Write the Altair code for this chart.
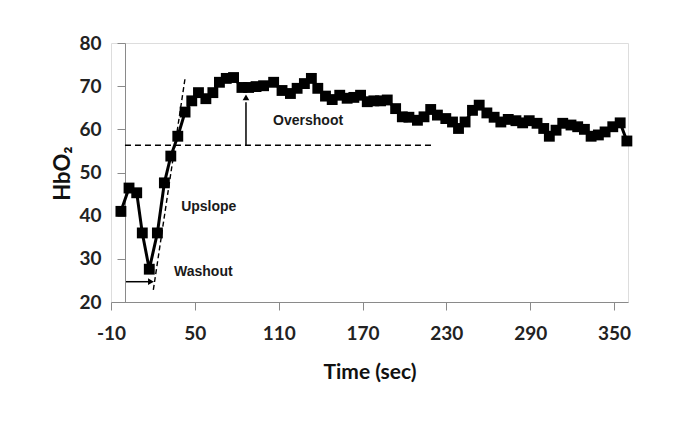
import altair as alt
import pandas as pd

# ---- data ----
time_s = [-2.9, 2.9, 8.4, 12.4, 17.4, 23.2, 28.2, 32.8, 37.8, 43.0,
          47.8, 52.6, 57.9, 62.9, 67.6, 72.5, 77.7, 83.7, 88.5, 93.8,
          99.2, 106.4, 112.4, 118.4, 123.2, 128.4, 133.4, 138.0, 143.5, 148.3,
          153.7, 159.0, 163.8, 168.6, 173.4, 178.1, 182.9, 187.7, 193.7, 198.5,
          203.2, 209.3, 214.0, 218.8, 223.6, 229.6, 234.4, 238.7, 243.4, 248.7,
          253.5, 259.0, 264.2, 269.0, 274.3, 279.8, 284.6, 289.3, 294.9, 299.7,
          303.7, 308.5, 313.3, 319.2, 324.0, 328.8, 333.6, 338.8, 343.6, 349.1,
          354.4, 359.2]
hbo2 = [41.0, 46.4, 45.3, 36.0, 27.6, 36.0, 47.6, 53.8, 58.4, 64.0,
        66.6, 68.5, 67.1, 68.5, 70.9, 71.8, 72.0, 69.7, 69.7, 69.9,
        70.1, 70.9, 69.0, 68.3, 69.5, 70.6, 71.8, 69.5, 67.7, 66.9,
        67.9, 67.2, 67.4, 67.9, 66.4, 66.6, 66.6, 66.8, 64.8, 62.9,
        62.8, 62.1, 62.9, 64.6, 63.3, 62.5, 61.7, 60.2, 61.7, 64.4,
        65.6, 63.8, 62.8, 61.7, 62.3, 62.0, 61.5, 62.0, 61.4, 60.2,
        58.4, 59.8, 61.4, 61.0, 60.6, 60.0, 58.4, 58.7, 59.4, 60.6,
        61.5, 57.3]

x_ticks = [-10, 50, 110, 170, 230, 290, 350]
y_ticks = [20, 30, 40, 50, 60, 70, 80]
x_domain = [-10, 360]
y_domain = [20, 80]

# annotations
baseline_level = 56.3
baseline_span = [0, 221]
overshoot_t = 86.6
overshoot_span = [56.3, 66.3]
overshoot_tip = 67.4
upslope_t = [20.3, 43.0]
upslope_v = [22.8, 71.8]
washout_span = [0.7, 17.5]
washout_tip = 18.6
washout_level = 24.7
label_t = [106.0, 40.2, 35.1]
label_v = [61.9, 42.1, 26.9]
label_txt = ["Overshoot", "Upslope", "Washout"]

# ---- layout ----
W, H = 517, 259
px_per_unit = W / (x_domain[1] - x_domain[0])
y_axis_offset = -round((0 - x_domain[0]) * px_per_unit)

FONT = "Lato"
ANNO_FONT = "Liberation Sans"

xscale = alt.Scale(domain=x_domain, nice=False, zero=False)
yscale = alt.Scale(domain=y_domain, nice=False, zero=False)

x_axis = alt.Axis(values=x_ticks, title="Time (sec)", grid=False,
                  labelExpr="'' + datum.value",
                  domainColor="#8a8a8a", tickColor="#8a8a8a", tickSize=8,
                  labelFont=FONT, labelFontSize=19, labelFontWeight="bold",
                  labelColor="#222222", labelPadding=14, labelFlush=False,
                  titleFont=FONT, titleFontSize=21, titleFontWeight="bold",
                  titleColor="#111111", titleY=70, titleBaseline="middle")
y_axis = alt.Axis(values=y_ticks, title="HbO₂", grid=False, offset=y_axis_offset,
                  domainColor="#8a8a8a", tickColor="#8a8a8a", tickSize=8,
                  labelFont=FONT, labelFontSize=19, labelFontWeight="bold",
                  labelColor="#222222", labelPadding=16,
                  titleFont=FONT, titleFontSize=22, titleFontWeight="bold",
                  titleColor="#111111", titleAngle=-90, titleX=-63, titleY=130,
                  titleAlign="center", titleBaseline="middle")


def X(field):
    return alt.X(field, type="quantitative", scale=xscale, axis=x_axis)


def Y(field):
    return alt.Y(field, type="quantitative", scale=yscale, axis=y_axis)


series = pd.DataFrame({"t": time_s, "v": hbo2})

line = alt.Chart(series).mark_line(color="black", strokeWidth=3).encode(x=X("t"), y=Y("v"))
pts = alt.Chart(series).mark_point(shape="square", filled=True, size=118,
                                   color="black", opacity=1).encode(x=X("t"), y=Y("v"))

base_df = pd.DataFrame({"t": [baseline_span[0]], "t2": [baseline_span[1]], "v": [baseline_level]})
baseline = alt.Chart(base_df).mark_rule(color="black", strokeWidth=1.4, strokeDash=[6, 4]).encode(
    x=X("t"), x2="t2", y=Y("v"))

up_df = pd.DataFrame({"t": upslope_t, "v": upslope_v})
upslope = alt.Chart(up_df).mark_line(color="black", strokeWidth=1.4, strokeDash=[5, 3]).encode(
    x=X("t"), y=Y("v"))

ov_df = pd.DataFrame({"t": [overshoot_t], "v": [overshoot_span[0]], "v2": [overshoot_span[1]]})
ov_rule = alt.Chart(ov_df).mark_rule(color="black", strokeWidth=1.5).encode(x=X("t"), y=Y("v"), y2="v2")
ov_tip_df = pd.DataFrame({"t": [overshoot_t], "v": [overshoot_tip]})
ov_tip = alt.Chart(ov_tip_df).mark_point(shape="triangle-up", filled=True, size=45,
                                         color="black", opacity=1).encode(x=X("t"), y=Y("v"))

wo_df = pd.DataFrame({"t": [washout_span[0]], "t2": [washout_span[1]], "v": [washout_level]})
wo_rule = alt.Chart(wo_df).mark_rule(color="black", strokeWidth=1.5).encode(x=X("t"), x2="t2", y=Y("v"))
wo_tip_df = pd.DataFrame({"t": [washout_tip], "v": [washout_level]})
wo_tip = alt.Chart(wo_tip_df).mark_point(shape="triangle-right", filled=True, size=45,
                                         color="black", opacity=1).encode(x=X("t"), y=Y("v"))

lab_df = pd.DataFrame({"t": label_t, "v": label_v, "txt": label_txt})
labels = alt.Chart(lab_df).mark_text(align="left", baseline="middle", font=ANNO_FONT,
                                     fontSize=14, fontWeight="bold", color="#1a1a1a").encode(
    x=X("t"), y=Y("v"), text="txt:N")

chart = alt.layer(baseline, upslope, ov_rule, ov_tip, wo_rule, wo_tip, labels, line, pts).properties(
    width=W, height=H,
    autosize=alt.AutoSizeParams(type="none"),
    padding={"left": 103, "top": 35, "right": 40, "bottom": 90},
).configure_view(stroke=None).configure(background="white")

chart.save("out.html", embed_options={"renderer": "svg", "actions": False})
